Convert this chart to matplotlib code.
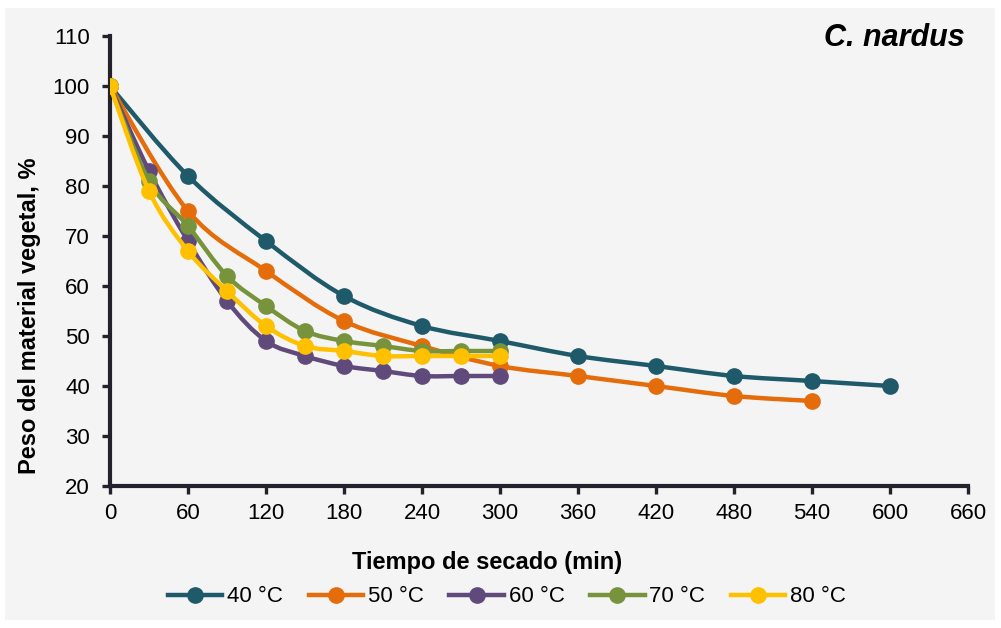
import matplotlib
matplotlib.use("Agg")
import matplotlib.pyplot as plt
from matplotlib.path import Path
from matplotlib.patches import PathPatch, Rectangle
from matplotlib.lines import Line2D
import numpy as np

# ---- data ----
t_40 = [0, 60, 120, 180, 240, 300, 360, 420, 480, 540, 600]
w_40 = [100, 82, 69, 58, 52, 49, 46, 44, 42, 41, 40]
t_50 = [0, 60, 120, 180, 240, 300, 360, 420, 480, 540]
w_50 = [100, 75, 63, 53, 48, 44, 42, 40, 38, 37]
t_60 = [0, 30, 60, 90, 120, 150, 180, 210, 240, 270, 300]
w_60 = [100, 83, 69, 57, 49, 46, 44, 43, 42, 42, 42]
t_70 = [0, 30, 60, 90, 120, 150, 180, 210, 240, 270, 300]
w_70 = [100, 81, 72, 62, 56, 51, 49, 48, 47, 47, 47]
t_80 = [0, 30, 60, 90, 120, 150, 180, 210, 240, 270, 300]
w_80 = [100, 79, 67, 59, 52, 48, 47, 46, 46, 46, 46]

labels = ["40 °C", "50 °C", "60 °C", "70 °C", "80 °C"]
colors = ["#1F5A6A", "#E46C0A", "#604A7B", "#77933C", "#FFC000"]
series = [(t_40, w_40), (t_50, w_50), (t_60, w_60), (t_70, w_70), (t_80, w_80)]

x_ticks = list(range(0, 661, 60))
y_ticks = list(range(20, 111, 10))

plt.rcParams['font.family'] = ['Liberation Sans', 'DejaVu Sans']

W, H = 1001, 628
fig = plt.figure(figsize=(W / 100, H / 100), dpi=100)
fig.patch.set_facecolor("white")
fig.patches.append(Rectangle((5 / W, 8 / H), 990 / W, 612 / H, transform=fig.transFigure,
                             facecolor="#F4F4F4", edgecolor="none", zorder=-10))

ax = fig.add_axes([110 / W, 1 - 486 / H, 858 / W, 450 / H])
ax.set_facecolor("none")


def smooth_path(x, y):
    p = np.column_stack([x, y]).astype(float)
    n = len(p)
    verts = [p[0]]
    codes = [Path.MOVETO]
    for i in range(n - 1):
        p0 = p[i - 1] if i > 0 else p[i]
        p1 = p[i]
        p2 = p[i + 1]
        p3 = p[i + 2] if i + 2 < n else p[i + 1]
        c1 = p1 + (p2 - p0) / 6.0
        c2 = p2 - (p3 - p1) / 6.0
        verts += [c1, c2, p2]
        codes += [Path.CURVE4] * 3
    return Path(verts, codes)


LW = 3.2
MS = 11
handles = []
for (xs, ys), c, lab, z in zip(series, colors, labels, range(5)):
    patch = PathPatch(smooth_path(xs, ys), facecolor="none", edgecolor=c, lw=LW,
                      zorder=3 + z, capstyle="round", joinstyle="round")
    ax.add_patch(patch)
    ax.plot(xs, ys, linestyle="none", marker="o", ms=MS, color=c, zorder=3.5 + z)
    handles.append(Line2D([0], [0], color=c, lw=LW, marker="o", ms=MS, label=lab))

ax.set_xlim(0, 660)
ax.set_ylim(20, 110)
ax.set_xticks(x_ticks)
ax.set_yticks(y_ticks)
for s in ["top", "right"]:
    ax.spines[s].set_visible(False)
for s in ["left", "bottom"]:
    ax.spines[s].set_linewidth(3)
    ax.spines[s].set_color("#22222C")
    ax.spines[s].set_capstyle("projecting")
ax.tick_params(axis="both", direction="out", length=5.5, width=2.4, color="#22222C",
               labelsize=16, labelcolor="black")
ax.tick_params(axis="x", pad=7)
ax.tick_params(axis="y", pad=9)

fig.text(487 / W, 1 - 563 / H, "Tiempo de secado (min)", ha="center", va="center",
         fontsize=17, fontweight="bold")
fig.text(30 / W, 1 - 316 / H, "Peso del material vegetal, %", ha="center", va="center",
         rotation=90, fontsize=17, fontweight="bold")

fig.text(965 / W, 1 - 38 / H, "C. nardus", ha="right", va="center", fontsize=22,
         fontweight="bold", style="italic")

fig.legend(handles=handles, loc="center", bbox_to_anchor=(507 / W, 1 - 597 / H), ncol=5,
           frameon=False, fontsize=16, handlelength=2.45, handletextpad=0.22,
           columnspacing=1.15, borderpad=0.1)

fig.savefig("out.png", dpi=100, facecolor=fig.get_facecolor())
